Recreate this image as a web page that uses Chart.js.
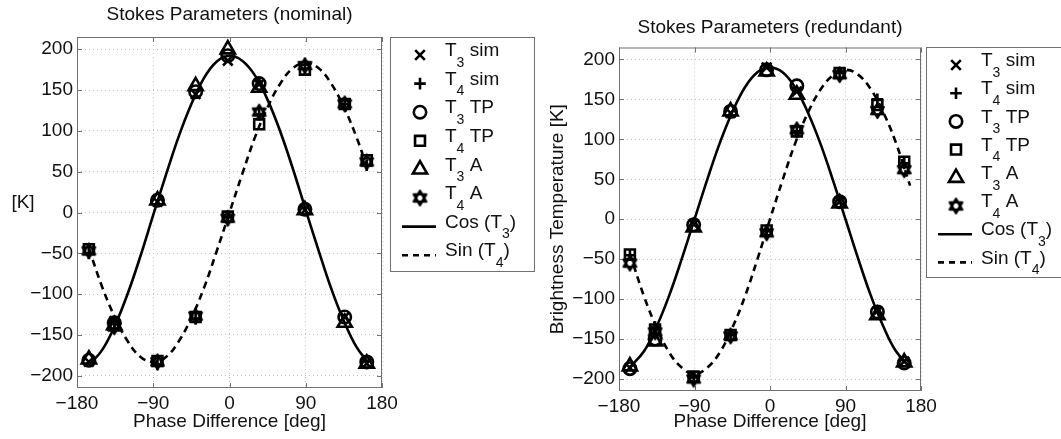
<!DOCTYPE html>
<html>
<head>
<meta charset="utf-8">
<script src="https://cdn.jsdelivr.net/npm/chart.js@4/dist/chart.umd.min.js"></script>
<style>
  html, body { margin: 0; padding: 0; background: #fff; width: 1061px; height: 439px; overflow: hidden; }
  canvas { position: absolute; top: 0; }
  #nominal { left: 0; }
  #redundant { left: 545px; }
</style>
</head>
<body>
<canvas id="nominal" width="545" height="439"></canvas>
<canvas id="redundant" width="516" height="439"></canvas>
<script>
// axis ticks
const xTicks = [-180, -90, 0, 90, 180];
const yTicks = [-200, -150, -100, -50, 0, 50, 100, 150, 200];

// nominal: measured points
const phaseNom = [-166, -136, -85, -40, -2, 35, 89, 136, 162];
const t3SimNom = [-183, -133, 13, 145, 186, 157, 3, -128, -185];
const t4SimNom = [-50, -135, -186, -130, -6, 120, 176, 133, 58];
const t3TpNom  = [-181, -135, 15, 148, 192, 158, 4, -128, -183];
const t4TpNom  = [-45, -138, -182, -128, -5, 108, 175, 133, 64];
const t3ANom   = [-180, -138, 15, 155, 200, 153, 3, -135, -185];
const t4ANom   = [-47, -140, -183, -127, -7, 123, 180, 133, 62];

// nominal: fitted curves
const curvePhaseNom = [-166, -150, -135, -120, -105, -90, -75, -60, -45, -30, -15, 0, 15, 30, 45, 60, 75, 90, 105, 120, 135, 150, 164];
const cosNom = [-187, -168, -138, -99, -53, -3, 46, 93, 133, 165, 185, 192, 186, 168, 138, 99, 53, 3, -46, -93, -133, -165, -184];
const sinNom = [-44, -92, -129, -158, -177, -183, -177, -158, -129, -92, -47, 0, 47, 92, 129, 158, 177, 183, 177, 158, 129, 92, 50];

// redundant: measured points
const phaseRed = [-167, -137, -91, -47, -4, 32, 83, 128, 160];
const t3SimRed = [-186, -140, -6, 133, 190, 160, 22, -115, -178];
const t4SimRed = [-45, -135, -198, -145, -15, 110, 183, 150, 70];
const t3TpRed  = [-187, -150, -7, 135, 187, 167, 22, -116, -180];
const t4TpRed  = [-44, -138, -197, -145, -14, 110, 183, 143, 72];
const t3ARed   = [-184, -153, -10, 135, 185, 156, 20, -120, -179];
const t4ARed   = [-55, -141, -200, -146, -17, 112, 181, 136, 62];

// redundant: fitted curves
const curvePhaseRed = [-167, -150, -135, -120, -105, -90, -75, -60, -45, -30, -15, 0, 15, 30, 45, 60, 75, 90, 105, 120, 135, 150, 167];
const cosRed = [-185, -165, -134, -95, -49, 0, 49, 95, 134, 165, 184, 190, 184, 165, 134, 95, 49, 0, -49, -95, -134, -165, -185];
const sinRed = [-43, -97, -136, -167, -186, -194, -186, -167, -136, -97, -50, 0, 49, 95, 133, 162, 180, 187, 181, 163, 134, 96, 42];

// legend text: [main, subscript, rest]
const legendLabels = [
  ['T', '3', ' sim'], ['T', '4', ' sim'], ['T', '3', ' TP'], ['T', '4', ' TP'],
  ['T', '3', ' A'], ['T', '4', ' A'], ['Cos (T', '3', ')'], ['Sin (T', '4', ')']
];

const FONT = '"Liberation Sans", Arial, Helvetica, sans-serif';
const INK = '#111';

Chart.defaults.font.family = FONT;
Chart.defaults.font.size = 19;
Chart.defaults.color = INK;

// six pointed star (matlab 'hexagram'), two stroked triangles
function hexagram(r) {
  const s = Math.ceil(2 * r + 6);
  const c = document.createElement('canvas');
  c.width = s; c.height = s;
  const g = c.getContext('2d');
  const m = s / 2;
  g.strokeStyle = '#000';
  g.lineWidth = 2.4;
  g.lineJoin = 'round';
  [-Math.PI / 2, Math.PI / 2].forEach(a0 => {
    g.beginPath();
    for (let k = 0; k < 3; k++) {
      const a = a0 + k * 2 * Math.PI / 3;
      const px = m + r * Math.cos(a), py = m + r * Math.sin(a);
      if (k) g.lineTo(px, py); else g.moveTo(px, py);
    }
    g.closePath();
    g.stroke();
  });
  return c;
}
const starImg = hexagram(7.2);

const markers = [
  { style: 'crossRot', r: 6.8 },
  { style: 'cross', r: 5.8 },
  { style: 'circle', r: 6.2 },
  { style: 'rect', r: 7 },
  { style: 'triangle', r: 8.2 },
  { style: starImg, r: 7.2 }
];

function drawMark(ctx, m, x, y) {
  const r = m.r;
  if (typeof m.style !== 'string') {
    ctx.drawImage(m.style, x - m.style.width / 2, y - m.style.height / 2);
    return;
  }
  ctx.beginPath();
  if (m.style === 'crossRot') {
    const d = r * Math.SQRT1_2;
    ctx.moveTo(x - d, y - d); ctx.lineTo(x + d, y + d);
    ctx.moveTo(x + d, y - d); ctx.lineTo(x - d, y + d);
  } else if (m.style === 'cross') {
    ctx.moveTo(x - r, y); ctx.lineTo(x + r, y);
    ctx.moveTo(x, y - r); ctx.lineTo(x, y + r);
  } else if (m.style === 'circle') {
    ctx.arc(x, y, r, 0, 2 * Math.PI);
  } else if (m.style === 'rect') {
    const d = r * Math.SQRT1_2;
    ctx.rect(x - d, y - d, 2 * d, 2 * d);
  } else if (m.style === 'triangle') {
    for (let k = 0; k < 3; k++) {
      const a = k * 2 * Math.PI / 3;
      const px = x + Math.sin(a) * r, py = y - Math.cos(a) * r;
      if (k) ctx.lineTo(px, py); else ctx.moveTo(px, py);
    }
    ctx.closePath();
  }
  ctx.stroke();
}

const fmt = v => v < 0 ? '\u2212' + Math.abs(v) : String(v);

const framePlugin = {
  id: 'frame',
  beforeDatasetsDraw(chart) {
    const { ctx, chartArea: a, scales } = chart;
    ctx.save();
    ctx.strokeStyle = '#707070';
    ctx.lineWidth = 1;
    ctx.strokeRect(a.left + 0.5, a.top + 0.5, a.right - a.left - 1, a.bottom - a.top - 1);
    ctx.beginPath();
    xTicks.forEach(v => {
      const px = Math.round(scales.x.getPixelForValue(v)) + 0.5;
      ctx.moveTo(px, a.top); ctx.lineTo(px, a.top + 5);
      ctx.moveTo(px, a.bottom); ctx.lineTo(px, a.bottom - 5);
    });
    yTicks.forEach(v => {
      const py = Math.round(scales.y.getPixelForValue(v)) + 0.5;
      ctx.moveTo(a.left, py); ctx.lineTo(a.left + 5, py);
      ctx.moveTo(a.right, py); ctx.lineTo(a.right - 5, py);
    });
    ctx.stroke();
    ctx.restore();
  },
  afterDraw(chart, args, opts) {
    const ctx = chart.ctx;
    ctx.save();
    if (opts.sideLabel) {
      ctx.font = '19px ' + FONT;
      ctx.fillStyle = INK;
      ctx.textAlign = 'center';
      ctx.textBaseline = 'middle';
      ctx.fillText(opts.sideLabel, opts.sideX, opts.sideY);
    }
    // legend box
    const L = opts.legend;
    ctx.fillStyle = '#fff';
    ctx.fillRect(L.x, L.y, L.w, L.h);
    ctx.strokeStyle = '#707070';
    ctx.lineWidth = 1;
    ctx.strokeRect(L.x + 0.5, L.y + 0.5, L.w, L.h);
    ctx.strokeStyle = '#000';
    ctx.lineWidth = 2.6;
    legendLabels.forEach((lab, i) => {
      const y = L.first + i * L.step;
      const mx = L.x + 30;
      if (i < markers.length) {
        drawMark(ctx, markers[i], mx, y);
      } else {
        ctx.save();
        ctx.lineWidth = 2.6;
        ctx.setLineDash(i === 6 ? [] : [6, 5]);
        ctx.beginPath();
        ctx.moveTo(mx - 18, y); ctx.lineTo(mx + 16, y);
        ctx.stroke();
        ctx.restore();
      }
      ctx.fillStyle = INK;
      ctx.textAlign = 'left';
      ctx.textBaseline = 'middle';
      let tx = L.x + 55;
      ctx.font = '19px ' + FONT;
      ctx.fillText(lab[0], tx, y - 4);
      tx += ctx.measureText(lab[0]).width;
      ctx.font = '14px ' + FONT;
      ctx.fillText(lab[1], tx, y + 8);
      tx += ctx.measureText(lab[1]).width;
      ctx.font = '19px ' + FONT;
      ctx.fillText(lab[2], tx, y - 4);
    });
    ctx.restore();
  }
};

function markerSet(label, xs, ys, m) {
  return {
    label,
    data: xs.map((x, i) => ({ x, y: ys[i] })),
    showLine: false,
    pointStyle: m.style,
    pointRadius: m.r,
    pointHoverRadius: m.r,
    pointBorderColor: '#000',
    pointBackgroundColor: 'rgba(0,0,0,0)',
    pointBorderWidth: 2.6,
    borderColor: '#000'
  };
}

function curveSet(label, xs, ys, dash) {
  return {
    label,
    data: xs.map((x, i) => ({ x, y: ys[i] })),
    showLine: true,
    borderColor: '#000',
    borderWidth: 2.6,
    borderDash: dash,
    pointRadius: 0,
    tension: 0.4,
    fill: false
  };
}

function makeChart(id, g) {
  const s = g.series;
  new Chart(document.getElementById(id), {
    type: 'scatter',
    data: {
      datasets: [
        markerSet('T3 sim', g.phase, s[0], markers[0]),
        markerSet('T4 sim', g.phase, s[1], markers[1]),
        markerSet('T3 TP', g.phase, s[2], markers[2]),
        markerSet('T4 TP', g.phase, s[3], markers[3]),
        markerSet('T3 A', g.phase, s[4], markers[4]),
        markerSet('T4 A', g.phase, s[5], markers[5]),
        curveSet('Cos (T3)', g.curvePhase, g.cos, []),
        curveSet('Sin (T4)', g.curvePhase, g.sin, [7, 5])
      ]
    },
    options: {
      responsive: false,
      animation: false,
      layout: { padding: { left: 0, top: 0, bottom: 0, right: g.padRight } },
      plugins: {
        legend: { display: false },
        tooltip: { enabled: false },
        title: {
          display: true, text: g.title, fullSize: false, color: INK,
          font: { size: 19, weight: 'normal' },
          padding: { top: g.titleTop, bottom: g.titleBottom }
        },
        frame: g.frame
      },
      scales: {
        x: {
          type: 'linear', min: -180, max: 180,
          afterBuildTicks: sc => { sc.ticks = xTicks.map(v => ({ value: v })); },
          afterFit: sc => { sc.height = g.xHeight; },
          grid: { color: '#c4c4c4', drawTicks: false },
          border: { display: false, dash: [1, 3] },
          ticks: { padding: 4, maxRotation: 0, color: INK, callback: v => fmt(v) },
          title: { display: true, text: 'Phase Difference [deg]', color: INK, padding: { top: 0, bottom: 6 } }
        },
        y: {
          type: 'linear', min: -215, max: 215,
          afterBuildTicks: sc => { sc.ticks = yTicks.map(v => ({ value: v })); },
          afterFit: sc => { sc.width = g.yWidth; },
          grid: { color: '#c4c4c4', drawTicks: false },
          border: { display: false, dash: [1, 3] },
          ticks: { padding: 4, color: INK, callback: v => fmt(v) },
          title: { display: !!g.yTitle, text: g.yTitle || '', color: INK, padding: { top: 1, bottom: 0 } }
        }
      }
    },
    plugins: [framePlugin]
  });
}

makeChart('nominal', {
  title: 'Stokes Parameters (nominal)',
  phase: phaseNom,
  series: [t3SimNom, t4SimNom, t3TpNom, t4TpNom, t3ANom, t4ANom],
  curvePhase: curvePhaseNom, cos: cosNom, sin: sinNom,
  padRight: 163, xHeight: 51, yWidth: 77, titleTop: 3.6, titleBottom: 10.6,
  frame: {
    sideLabel: '[K]', sideX: 23, sideY: 203,
    legend: { x: 390, y: 37, w: 144, h: 234, first: 55, step: 28.6 }
  }
});

makeChart('redundant', {
  title: 'Stokes Parameters (redundant)',
  yTitle: 'Brightness Temperature [K]',
  phase: phaseRed,
  series: [t3SimRed, t4SimRed, t3TpRed, t4TpRed, t3ARed, t4ARed],
  curvePhase: curvePhaseRed, cos: cosRed, sin: sinRed,
  padRight: 140, xHeight: 48, yWidth: 74, titleTop: 16, titleBottom: 8.7,
  frame: {
    legend: { x: 381, y: 47, w: 150, h: 230, first: 65, step: 28.2 }
  }
});
</script>
</body>
</html>
